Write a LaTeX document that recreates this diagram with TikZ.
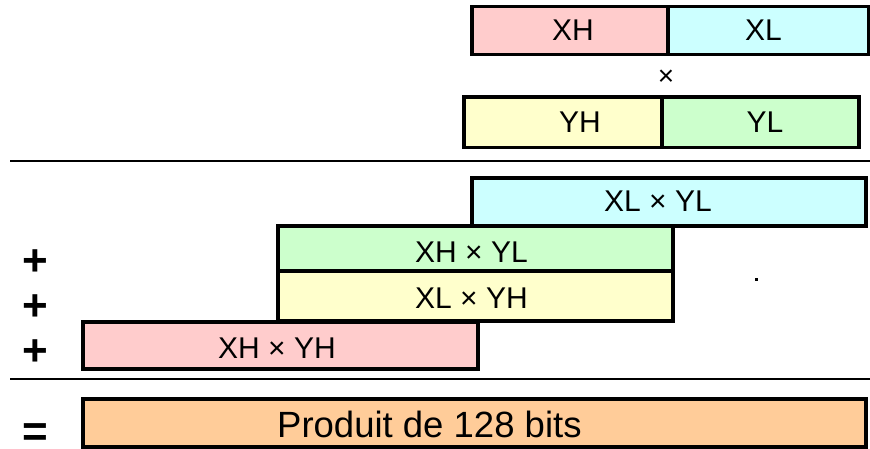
\documentclass[tikz,border=0pt]{standalone}
\usepackage{fontspec}
\setmainfont{Liberation Sans}
\definecolor{cpink}{HTML}{FFCCCC}
\definecolor{ccyan}{HTML}{CCFFFF}
\definecolor{cyel}{HTML}{FFFFCC}
\definecolor{cgreen}{HTML}{CCFFCC}
\definecolor{corange}{HTML}{FFCC99}
\begin{document}
\begin{tikzpicture}[x=1pt,y=-1pt,
  box/.style={draw=black,line width=3.3pt},
  lbl/.style={anchor=base,inner sep=0pt,font=\fontsize{30}{30}\selectfont},
  sign/.style={anchor=center,inner sep=0pt,font=\fontsize{44}{44}\selectfont\bfseries},
  rule/.style={line width=2.6pt}]
\useasboundingbox (0,0) rectangle (870,449);
% top operands
\path[box,fill=cpink] (472,6.5) rectangle (668,54.5);
\path[box,fill=ccyan] (668,6.5) rectangle (869,54.5);
\path[box,fill=cyel] (464,97) rectangle (662,147.5);
\path[box,fill=cgreen] (662,97) rectangle (859,147.5);
\node[lbl] (xh) at (573,41) {XH};
\node[lbl] (xl) at (763.5,41) {XL};
\node[anchor=center,inner sep=0pt,font=\fontsize{28}{28}\selectfont] (times) at (666,77.5) {×};
\node[lbl] (yh) at (580,133) {YH};
\node[lbl] (yl) at (765,133) {YL};
% rules
\coordinate (r1a) at (10,161); \coordinate (r1b) at (870,161);
\coordinate (r2a) at (10,379); \coordinate (r2b) at (870,379);
\draw[rule] (r1a) -- (r1b);
\draw[rule] (r2a) -- (r2b);
% partial products
\path[box,fill=ccyan] (472,178) rectangle (866,226);
\path[box,fill=cgreen] (278,226) rectangle (673,271);
\path[box,fill=cyel] (278,271) rectangle (673,321);
\path[box,fill=cpink] (83,322) rectangle (478,369);
\path[box,fill=corange] (83,399) rectangle (866,447);
\node[lbl] (xlyl) at (658,212) {XL × YL};
\node[lbl] (xhyl) at (471.5,262) {XH × YL};
\node[lbl] (xlyh) at (471.5,308) {XL × YH};
\node[lbl] (xhyh) at (277,358) {XH × YH};
\node[anchor=base west,inner sep=0pt,font=\fontsize{36.5}{36.5}\selectfont] (prod) at (277,437) {Produit de 128 bits};
% signs
\node[sign] (p1) at (35,263) {+};
\node[sign] (p2) at (35,308) {+};
\node[sign] (p3) at (35,353) {+};
\node[sign] (eq) at (35,435) {=};
% stray dot
\fill (754.5,277.5) rectangle (758,281);
\end{tikzpicture}
\end{document}
